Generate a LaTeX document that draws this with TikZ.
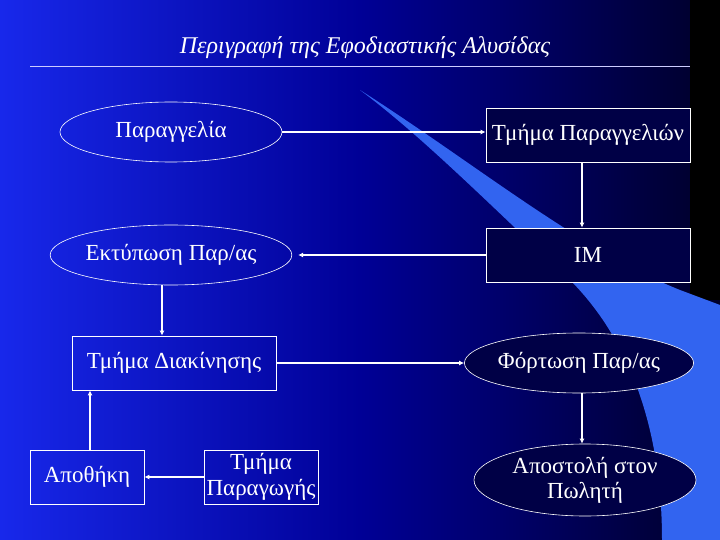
\documentclass[tikz,border=0pt]{standalone}
\usepackage{fontspec}
\setmainfont{Liberation Serif}
\usetikzlibrary{shapes.geometric,arrows.meta}
\definecolor{bgL}{RGB}{24,40,235}
\definecolor{bgM}{RGB}{0,0,150}
\definecolor{bgR}{RGB}{0,0,40}
\definecolor{boxfill}{RGB}{0,0,70}
\definecolor{swoosh}{RGB}{50,100,240}
\begin{document}
\begin{tikzpicture}[x=1pt,y=-1pt,
  box/.style={draw=white,line width=0.8pt,rectangle,minimum width=204pt,minimum height=54pt,inner sep=0pt,text=white,font=\fontsize{23}{25}\selectfont,align=center},
  sbox/.style={box,minimum width=114pt},
  oval/.style={draw=white,line width=0.6pt,ellipse,minimum width=222pt,minimum height=60pt,inner sep=0pt,text=white,font=\fontsize{23}{25}\selectfont,align=center},
  arr/.style={draw=white,line width=1.3pt,-{Latex[length=5pt,width=5pt]}}]
\useasboundingbox (0,0) rectangle (720,540);
\shade[left color=bgL, right color=bgR, middle color=bgM] (0,0) rectangle (720,540);
\fill[black] (690,0) rectangle (720,300);
\fill[swoosh] (360,90) .. controls (470,160) and (580,250) .. (680,290) -- (720,305) -- (720,540) -- (662,540) .. controls (662,430) and (630,340) .. (570,280) .. controls (480,195) and (420,135) .. (360,90) -- cycle;
\node[text=white,font=\itshape\fontsize{24}{26}\selectfont] (title) at (365,48) {Περιγραφή της Εφοδιαστικής Αλυσίδας};
\coordinate (l1) at (30,66); \coordinate (l2) at (690,66);
\draw[white!80!blue,line width=0.6pt] (l1) -- (l2);
\node[oval] (par) at (171,132) {Παραγγελία};
\node[box,fill=boxfill] (tpar) at (588,135) {Τμήμα Παραγγελιών};
\node[box,fill=boxfill] (im) at (588,255) {IM};
\node[oval] (ekt) at (171,255) {Εκτύπωση Παρ/ας};
\node[box] (dia) at (174,363) {Τμήμα Διακίνησης};
\node[oval,fill=boxfill] (fort) at (579,363) {Φόρτωση Παρ/ας};
\node[oval,fill=boxfill,minimum width=222pt,minimum height=72pt] (apo) at (585,480) {Αποστολή στον\\Πωλητή};
\node[sbox] (apoth) at (87,477) {Αποθήκη};
\node[sbox,font=\fontsize{23}{26}\selectfont] (paragw) at (261,477) {Τμήμα\\Παραγωγής};
\draw[arr] (par.east) -- (tpar.west |- par.east);
\draw[arr] (tpar.south -| 582,0) -- (im.north -| 582,0);
\draw[arr] (im.west) -- ([xshift=6pt]ekt.east);
\draw[arr] (ekt.south -| 162,0) -- (dia.north -| 162,0);
\draw[arr] (dia.east) -- (fort.west |- dia.east);
\draw[arr] (fort.south -| 582,0) -- (apo.north -| 582,0);
\draw[arr] (apoth.north -| 90,0) -- (dia.south -| 90,0);
\draw[arr] (paragw.west) -- (apoth.east);
\end{tikzpicture}
\end{document}
